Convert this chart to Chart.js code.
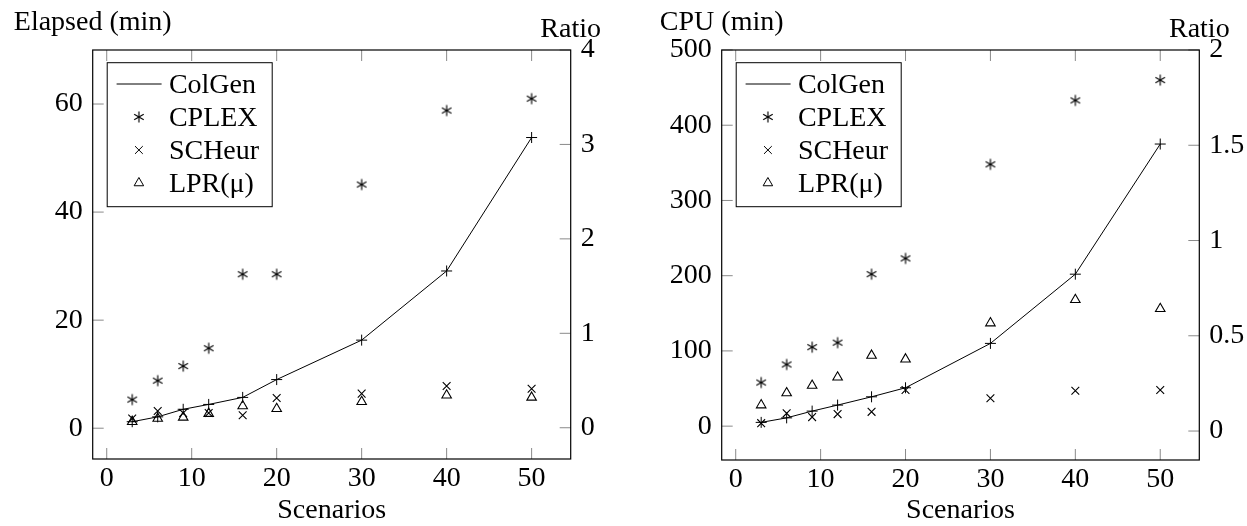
<!DOCTYPE html>
<html>
<head>
<meta charset="utf-8">
<script src="https://cdn.jsdelivr.net/npm/chart.js@4.4.1/dist/chart.umd.min.js"></script>
<style>
  html, body { margin: 0; padding: 0; background: #fff; }
  canvas { position: absolute; top: 0; }
  #graficoElapsed { left: 0; }
  #graficoCpu { left: 624px; }
</style>
</head>
<body>
<canvas id="graficoElapsed" width="624" height="526"></canvas>
<canvas id="graficoCpu" width="623" height="526"></canvas>
<script>
// valores
const cenarios = [3, 6, 9, 12, 16, 20, 30, 40, 50];

const colgenElapsed = [1.2, 2.1, 3.5, 4.4, 5.7, 9.0, 16.3, 29.1, 53.8];
const cplexElapsed  = [5.3, 8.8, 11.5, 14.8, 28.5, 28.5, 45.1, 58.8, 61.0];
const scheurElapsed = [1.8, 3.2, 2.8, 2.8, 2.4, 5.6, 6.4, 7.8, 7.3];
const lprElapsed    = [1.2, 1.8, 2.0, 2.7, 4.1, 3.6, 4.9, 6.1, 5.7];

const colgenCpu = [5, 11, 20, 28, 39, 51, 110, 202, 375];
const cplexCpu  = [58, 82, 105, 111, 202, 223, 348, 433, 460];
const scheurCpu = [4, 17, 12, 16, 19, 48, 37, 47, 48];
const lprCpu    = [28, 44, 54, 65, 94, 89, 137, 168, 156];

const ticksX = [0, 10, 20, 30, 40, 50];
const ticksElapsed = [0, 20, 40, 60];
const ticksRatioElapsed = [0, 1, 2, 3, 4];
const ticksCpu = [0, 100, 200, 300, 400, 500];
const ticksRatioCpu = [0, 0.5, 1, 1.5, 2];

const legendas = ["ColGen", "CPLEX", "SCHeur", "LPR(\u03bc)"];

Chart.defaults.font.family = "'Liberation Serif', serif";
Chart.defaults.font.size = 28;
Chart.defaults.color = "#000";

function pares(valores) {
  return cenarios.map(function(x, i) { return { x: x, y: valores[i] }; });
}

function marcaAsterisco(r) {
  const c = document.createElement("canvas");
  const s = Math.ceil(r * 2 + 3);
  c.width = s; c.height = s;
  const g = c.getContext("2d");
  g.strokeStyle = "#000"; g.lineWidth = 1.15;
  g.translate(s / 2, s / 2);
  for (let k = 0; k < 3; k++) {
    const a = Math.PI / 2 + k * Math.PI / 3;
    g.beginPath();
    g.moveTo(Math.cos(a) * r, Math.sin(a) * r);
    g.lineTo(-Math.cos(a) * r, -Math.sin(a) * r);
    g.stroke();
  }
  return c;
}
const asterisco = marcaAsterisco(5.5);

// moldura, ticks para dentro, rótulos do topo e legenda
const moldura = {
  id: "moldura",
  beforeDatasetsDraw(chart) {
    const ctx = chart.ctx, a = chart.chartArea, t = 11;
    ctx.save();
    ctx.strokeStyle = "#8a8a8a"; ctx.lineWidth = 1;
    ctx.beginPath();
    chart.scales.x.ticks.forEach(function(tk) {
      const px = chart.scales.x.getPixelForValue(tk.value);
      ctx.moveTo(px, a.bottom); ctx.lineTo(px, a.bottom - t);
      ctx.moveTo(px, a.top); ctx.lineTo(px, a.top + t);
    });
    chart.scales.y.ticks.forEach(function(tk) {
      const py = chart.scales.y.getPixelForValue(tk.value);
      ctx.moveTo(a.left, py); ctx.lineTo(a.left + t, py);
    });
    chart.scales.yR.ticks.forEach(function(tk) {
      const py = chart.scales.yR.getPixelForValue(tk.value);
      ctx.moveTo(a.right, py); ctx.lineTo(a.right - t, py);
    });
    ctx.stroke();
    ctx.restore();
  },
  afterDraw(chart, args, opts) {
    const ctx = chart.ctx, a = chart.chartArea;
    ctx.save();
    ctx.strokeStyle = "#000"; ctx.lineWidth = 1.2;
    ctx.strokeRect(a.left, a.top, a.right - a.left, a.bottom - a.top);

    ctx.fillStyle = "#000";
    ctx.font = "28px 'Liberation Serif', serif";
    ctx.textAlign = "center";
    ctx.textBaseline = "alphabetic";
    ctx.fillText(opts.tituloEsq, a.left, 30);
    ctx.fillText("Ratio", a.right, 37);

    // legenda
    const lx = a.left + 14.5, ly = a.top + 12.7, lw = 165, lh = 144;
    ctx.fillStyle = "#fff";
    ctx.fillRect(lx, ly, lw, lh);
    ctx.lineWidth = 1;
    ctx.strokeRect(lx, ly, lw, lh);
    chart.data.datasets.forEach(function(ds, i) {
      const ry = ly + 21.3 + i * 33;
      ctx.strokeStyle = "#000";
      ctx.fillStyle = "transparent";
      ctx.lineWidth = 1;
      if (ds.showLine) {
        ctx.beginPath(); ctx.moveTo(lx + 9.4, ry); ctx.lineTo(lx + 54.4, ry); ctx.stroke();
      } else {
        Chart.helpers.drawPoint(ctx, { pointStyle: ds.pointStyle, radius: ds.pointRadius, borderWidth: 1, rotation: 0 }, lx + 31.7, ry);
      }
      ctx.fillStyle = "#000";
      ctx.textAlign = "left";
      ctx.fillText(ds.label, lx + 61.7, ry + 9);
    });
    ctx.restore();
  }
};

function criarGrafico(id, cfg) {
  const fixarTicks = function(lista) {
    return function(s) { s.ticks = lista.map(function(v) { return { value: v }; }); };
  };
  const rotulo = function(v) { return String(v); };
  return new Chart(document.getElementById(id), {
    type: "scatter",
    data: {
      datasets: [
        { label: legendas[0], data: pares(cfg.colgen), showLine: true, borderColor: "#000", borderWidth: 1,
          pointStyle: "cross", pointRadius: 5.5, pointBorderWidth: 1, pointBorderColor: "#000", backgroundColor: "#000" },
        { label: legendas[1], data: pares(cfg.cplex), showLine: false, pointStyle: asterisco, pointRadius: 5.5,
          pointBorderColor: "#000", backgroundColor: "#000" },
        { label: legendas[2], data: pares(cfg.scheur), showLine: false, pointStyle: "crossRot", pointRadius: 5.5,
          pointBorderWidth: 1.1, pointBorderColor: "#000", backgroundColor: "#000" },
        { label: legendas[3], data: pares(cfg.lpr), showLine: false, pointStyle: "triangle", pointRadius: 5.5,
          pointBorderWidth: 1.1, pointBorderColor: "#000", pointBackgroundColor: "rgba(0,0,0,0)" }
      ]
    },
    options: {
      responsive: false,
      animation: false,
      events: [],
      layout: { padding: { top: 50, left: 0, right: 0, bottom: 0 } },
      plugins: {
        legend: { display: false },
        tooltip: { enabled: false },
        moldura: { tituloEsq: cfg.tituloEsq }
      },
      scales: {
        x: {
          type: "linear", min: -1.65, max: 54.6,
          grid: { display: false, drawTicks: false }, border: { display: false },
          ticks: { padding: 3, autoSkip: false, maxRotation: 0, callback: rotulo },
          afterBuildTicks: fixarTicks(ticksX),
          afterFit: function(s) { s.height = cfg.altX; },
          title: { display: true, text: "Scenarios", padding: { top: 0, bottom: 1 }, font: { lineHeight: 1 } }
        },
        y: {
          type: "linear", position: "left", min: cfg.yMin, max: cfg.yMax,
          grid: { display: false, drawTicks: false }, border: { display: false },
          ticks: { padding: 10, callback: rotulo },
          afterBuildTicks: fixarTicks(cfg.ticksY),
          afterFit: function(s) { s.width = cfg.largEsq; }
        },
        yR: {
          type: "linear", position: "right", min: cfg.rMin, max: cfg.rMax,
          grid: { display: false, drawTicks: false }, border: { display: false },
          ticks: { padding: 10, callback: rotulo },
          afterBuildTicks: fixarTicks(cfg.ticksR),
          afterFit: function(s) { s.width = cfg.largDir; }
        }
      }
    },
    plugins: [moldura]
  });
}

criarGrafico("graficoElapsed", {
  colgen: colgenElapsed, cplex: cplexElapsed, scheur: scheurElapsed, lpr: lprElapsed,
  tituloEsq: "Elapsed (min)",
  yMin: -5.7, yMax: 70, ticksY: ticksElapsed,
  rMin: -0.331, rMax: 4, ticksR: ticksRatioElapsed,
  largEsq: 92.7, largDir: 53.3, altX: 67
});

criarGrafico("graficoCpu", {
  colgen: colgenCpu, cplex: cplexCpu, scheur: scheurCpu, lpr: lprCpu,
  tituloEsq: "CPU (min)",
  yMin: -45, yMax: 500, ticksY: ticksCpu,
  rMin: -0.152, rMax: 2, ticksR: ticksRatioCpu,
  largEsq: 97.7, largDir: 47.7, altX: 66
});
</script>
</body>
</html>
